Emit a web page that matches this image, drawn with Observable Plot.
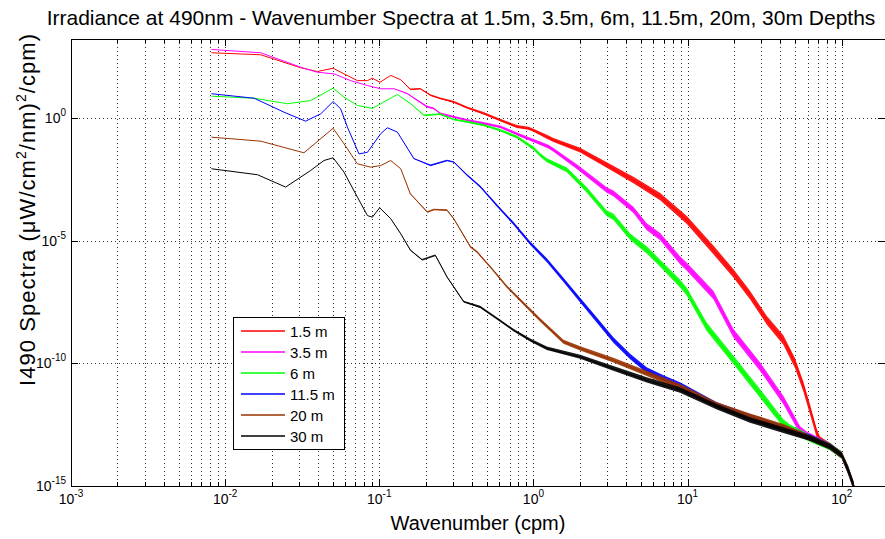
<!DOCTYPE html>
<html>
<head>
<meta charset="utf-8">
<script src="https://cdn.jsdelivr.net/npm/d3@7"></script>
<script src="https://cdn.jsdelivr.net/npm/@observablehq/plot@0.6"></script>
<style>
html,body{margin:0;padding:0;background:#fff;}
#chart svg{display:block;}
</style>
</head>
<body>
<div id="chart"></div>
<script>
// ---------- text ----------
const titleText = "Irradiance at 490nm - Wavenumber Spectra at 1.5m, 3.5m, 6m, 11.5m, 20m, 30m Depths";
const xLabel = "Wavenumber (cpm)";
const depths = ["1.5 m", "3.5 m", "6 m", "11.5 m", "20 m", "30 m"];
const colors = ["#ff0000", "#ff00ff", "#00ff00", "#0000ff", "#993300", "#000000"];
const xTickExp = [-3, -2, -1, 0, 1, 2];
const yTickExp = [-15, -10, -5, 0];

// ---------- data (wavenumber k [cpm], spectral value p, noise spread factor n) ----------
// 1.5 m
const k1 = [0.00813,0.0169,0.0307,0.0393,0.0498,0.0586,0.0716,0.0832,0.0895,0.1002,0.1178,0.1368,0.1585,0.184,0.214,0.248,0.303,0.370,0.474,0.608,0.780,0.930,1.0,1.222,1.349,2.01,2.99,4.45,6.64,9.89,14.7,19.8,25.4,32.6,41.8,49.8,56.4,62.4,68.9,72.3,84,100,110,119];
const p1 = [477,395,117,82,112,66,35,35,44,30,57,38,15,16,8.7,6.4,4.6,2.7,1.55,0.83,0.45,0.38,0.32,0.173,0.127,0.0496,0.0121,0.00297,6.2e-4,7.0e-5,4.2e-6,4.7e-7,6.1e-8,5.8e-9,8.9e-10,1.0e-10,1.1e-11,1.25e-12,1.4e-13,7.5e-14,4.0e-14,1.8e-14,4.5e-15,1.1e-15];
const n1 = [1,1,1,1,1,1,1,1,1,1,1,1,1.05,1.05,1.08,1.08,1.1,1.1,1.12,1.12,1.15,1.15,1.15,1.2,1.2,1.25,1.3,1.35,1.4,1.45,1.5,1.5,1.5,1.5,1.55,1.6,1.6,1.6,1.5,1.4,1.4,1.4,1.5,1.5];
// 3.5 m
const k2 = [0.00813,0.0169,0.0307,0.0393,0.0505,0.0647,0.0832,0.1014,0.1236,0.151,0.204,0.225,0.248,0.303,0.370,0.474,0.608,0.82,1.107,1.25,1.349,1.911,2.99,3.30,4.45,5.43,6.64,8.93,9.89,14.7,19.8,29.5,41.8,53.7,59.3,84,100,110,119];
const p2 = [650,477,123,77,66,35,22,16.3,16.3,10.2,2.9,2.5,1.55,1.13,0.83,0.61,0.44,0.2,0.093,0.068,0.05,0.0104,0.00116,8.5e-4,1.8e-4,3.7e-5,1.45e-5,1.6e-6,8.7e-7,6.1e-8,1.7e-9,7.3e-11,3.2e-12,1.9e-13,1.2e-13,4.0e-14,1.8e-14,4.5e-15,1.1e-15];
const n2 = [1,1,1,1,1,1,1,1,1,1.05,1.08,1.08,1.08,1.1,1.1,1.12,1.12,1.15,1.18,1.2,1.2,1.25,1.3,1.3,1.35,1.4,1.4,1.45,1.45,1.5,1.5,1.5,1.5,1.45,1.4,1.4,1.4,1.5,1.5];
// 6 m
const k3 = [0.00813,0.0153,0.0252,0.0356,0.0498,0.0586,0.0716,0.0895,0.1014,0.130,0.1585,0.194,0.248,0.303,0.370,0.474,0.608,0.78,1.0,1.107,1.222,1.647,2.22,2.99,3.30,4.24,5.43,6.64,8.93,9.89,13.3,19.8,29.5,41.8,46.2,62.4,84,100,110,119];
const p3 = [8.1,6.7,4.0,5.4,17.2,7.4,3.4,2.6,4.0,9.5,4.0,1.33,1.46,0.89,0.71,0.52,0.32,0.17,0.058,0.031,0.019,0.0076,0.00116,1.3e-4,9.5e-5,1.45e-5,4.2e-6,1.2e-6,1.8e-7,8.3e-8,3.1e-9,1.4e-10,6.0e-12,3.6e-13,2.3e-13,8.8e-14,4.0e-14,1.8e-14,4.5e-15,1.1e-15];
const n3 = [1,1,1,1,1,1,1,1,1,1,1.03,1.05,1.08,1.08,1.1,1.1,1.12,1.15,1.18,1.18,1.2,1.25,1.3,1.3,1.35,1.35,1.4,1.4,1.45,1.45,1.5,1.5,1.5,1.45,1.4,1.4,1.4,1.4,1.5,1.5];
// 11.5 m
const k4 = [0.00813,0.0153,0.0239,0.0330,0.0414,0.0498,0.0557,0.0617,0.0733,0.0832,0.1014,0.1119,0.130,0.1667,0.214,0.274,0.303,0.370,0.451,0.59,0.741,0.953,1.222,1.566,2.01,2.58,3.30,4.24,5.43,6.97,8.93,15.5,25.4,41.8,62.4,84,100,110,119];
const p4 = [10.2,6.7,1.81,0.78,1.55,4.9,2.5,0.44,0.036,0.042,0.24,0.42,0.28,0.023,0.012,0.019,0.0166,0.0048,0.0016,2.4e-4,5.1e-5,7.8e-6,1.6e-6,2.5e-7,3.8e-8,5.8e-9,8.9e-10,1.9e-10,5.3e-11,2.5e-11,1.3e-11,2.0e-12,6.5e-13,2.3e-13,9.6e-14,4.3e-14,1.8e-14,4.5e-15,1.1e-15];
const n4 = [1,1,1,1,1,1,1,1,1,1,1,1,1,1.03,1.05,1.05,1.05,1.08,1.1,1.12,1.15,1.18,1.2,1.22,1.25,1.28,1.3,1.3,1.3,1.3,1.3,1.3,1.3,1.3,1.3,1.3,1.3,1.4,1.4];
// 20 m
const k5 = [0.00813,0.0169,0.0322,0.0498,0.0586,0.0716,0.0873,0.1014,0.1178,0.1368,0.158,0.204,0.225,0.274,0.303,0.389,0.430,0.524,0.673,0.861,1.107,1.566,2.01,3.30,5.43,8.93,15.5,25.4,41.8,62.4,84,100,110,119];
const p5 = [0.173,0.119,0.040,0.40,0.093,0.0142,0.0104,0.0121,0.0194,0.0089,8.5e-4,1.5e-4,1.9e-4,1.8e-4,8e-5,5.7e-6,3.5e-6,8.7e-7,1.33e-7,2.8e-8,5.8e-9,7.6e-10,4.1e-10,1.36e-10,3.9e-11,1.1e-11,2.0e-12,7.0e-13,2.6e-13,9.0e-14,4.2e-14,1.8e-14,4.5e-15,1.1e-15];
const n5 = [1,1,1,1,1,1,1,1,1,1,1.03,1.05,1.05,1.05,1.05,1.08,1.1,1.1,1.12,1.15,1.18,1.2,1.22,1.25,1.28,1.3,1.3,1.3,1.3,1.3,1.3,1.3,1.4,1.4];
// 30 m
const k6 = [0.00813,0.0161,0.0245,0.0356,0.0434,0.0498,0.0586,0.0716,0.0832,0.0895,0.0998,0.1178,0.1368,0.1585,0.189,0.230,0.274,0.352,0.451,0.579,0.741,0.953,1.222,2.01,3.30,5.43,8.93,15.5,25.4,41.8,62.4,84,100,110,119];
const p6 = [0.0089,0.0051,0.0016,0.0076,0.0194,0.025,0.0065,6.2e-4,1.1e-4,9.5e-5,2.3e-4,8.2e-5,2.0e-5,4.2e-6,1.7e-6,2.6e-6,3.4e-7,3.3e-8,2.0e-8,6.8e-9,2.3e-9,8.9e-10,4.1e-10,1.86e-10,6.3e-11,2.1e-11,8.2e-12,1.7e-12,4.9e-13,1.9e-13,8.8e-14,4.0e-14,1.8e-14,4.5e-15,1.1e-15];
const n6 = [1,1,1,1,1,1,1,1,1,1,1,1,1.03,1.03,1.05,1.05,1.05,1.08,1.1,1.1,1.12,1.15,1.18,1.2,1.25,1.28,1.3,1.3,1.3,1.3,1.3,1.3,1.3,1.4,1.4];

const ks = [k1,k2,k3,k4,k5,k6], ps = [p1,p2,p3,p4,p5,p6], ns = [n1,n2,n3,n4,n5,n6];
const series = depths.map((d, i) => ks[i].map((k, j) => ({depth: d, k, p: ps[i][j], n: ns[i][j]})));

// grid positions (decades and 2..9 sub-ticks)
const xDom = [1e-3, 190.9];
const yDom = [1e-15, 1659.6];
const xMajor = xTickExp.map(e => Math.pow(10, e));
const xMinor = [];
for (const e of xTickExp) for (let m = 2; m <= 9; m++) { const v = m * Math.pow(10, e); if (v < xDom[1]) xMinor.push(v); }
const yMajor = yTickExp.map(e => Math.pow(10, e));

const gridStyle = {stroke: "#000", strokeOpacity: 0.8, strokeDasharray: "1,3", strokeWidth: 1};
const marks = [
  Plot.ruleX(xMajor.slice(1).concat(xMinor), gridStyle),
  Plot.ruleY(yMajor.slice(1), gridStyle)
];
series.forEach((s, i) => {
  marks.push(Plot.areaY(s, {x: "k", y1: d => d.p / d.n, y2: d => d.p * d.n, fill: colors[i], fillOpacity: 0.9, clip: true}));
  marks.push(Plot.line(s, {x: "k", y: "p", stroke: colors[i], strokeWidth: 1, clip: true}));
});
marks.push(Plot.frame({stroke: "#000", strokeWidth: 1}));

const plot = Plot.plot({
  width: 885, height: 539,
  marginLeft: 71, marginRight: 0, marginTop: 39, marginBottom: 53,
  x: {type: "log", domain: xDom, axis: null},
  y: {type: "log", domain: yDom, axis: null},
  style: {background: "#fff", fontFamily: "'Liberation Sans', Arial, sans-serif"},
  marks
});
document.getElementById("chart").appendChild(plot);

// ---------- decorations through the plot's own scales ----------
const svg = d3.select(plot);
const xs = plot.scale("x"), ys = plot.scale("y");
const yBot = ys.range[0], yTop = ys.range[1];
const xL = xs.range[0], xR = xs.range[1];
svg.selectAll("[aria-label=frame], [aria-label=rule]").attr("shape-rendering", "crispEdges");
const font = "'Liberation Sans', Arial, sans-serif";

const tg = svg.append("g").attr("stroke", "#000").attr("stroke-width", 1).attr("shape-rendering", "crispEdges");
function vtick(v, len) {
  const px = Math.round(xs.apply(v)) + 0.5;
  tg.append("line").attr("x1", px).attr("x2", px).attr("y1", yBot).attr("y2", yBot - len);
  tg.append("line").attr("x1", px).attr("x2", px).attr("y1", yTop).attr("y2", yTop + len);
}
xMajor.forEach(v => vtick(v, 7));
xMinor.forEach(v => vtick(v, 4));
yMajor.forEach(v => {
  const py = Math.round(ys.apply(v)) + 0.5;
  tg.append("line").attr("x1", xL).attr("x2", xL + 7).attr("y1", py).attr("y2", py);
  tg.append("line").attr("x1", xR).attr("x2", xR - 7).attr("y1", py).attr("y2", py);
});

function powLabel(x, y, exp, anchor) {
  const t = svg.append("text").attr("x", x).attr("y", y).attr("text-anchor", anchor)
    .attr("font-family", font).attr("font-size", 14).attr("fill", "#000");
  t.append("tspan").text("10");
  t.append("tspan").attr("dy", -7).attr("font-size", 10).text(String(exp));
}
xTickExp.forEach(e => powLabel(xs.apply(Math.pow(10, e)), 504, e, "middle"));
yTickExp.forEach(e => powLabel(66, ys.apply(Math.pow(10, e)) + 5, e, "end"));

// title
svg.append("text").attr("x", 461).attr("y", 25).attr("text-anchor", "middle")
  .attr("font-family", font).attr("font-size", 21).attr("fill", "#000").text(titleText);
// x label
svg.append("text").attr("x", (xL + xR) / 2).attr("y", 530).attr("text-anchor", "middle")
  .attr("font-family", font).attr("font-size", 20).attr("fill", "#000").text(xLabel);
// y label with superscripts
const yl = svg.append("text").attr("transform", "translate(35,210) rotate(-90)").attr("text-anchor", "middle")
  .attr("font-family", font).attr("font-size", 22).attr("fill", "#000")
  .attr("textLength", 352).attr("lengthAdjust", "spacing");
yl.append("tspan").text("I490 Spectra (\u03bcW/cm");
yl.append("tspan").attr("dy", -9).attr("font-size", 14).text("2");
yl.append("tspan").attr("dy", 9).text("/nm)");
yl.append("tspan").attr("dy", -9).attr("font-size", 14).text("2");
yl.append("tspan").attr("dy", 9).text("/cpm)");

// legend
const lg = svg.append("g").attr("text-anchor", "start");
lg.append("rect").attr("x", 233.5).attr("y", 317.5).attr("width", 111).attr("height", 132)
  .attr("fill", "#fff").attr("stroke", "#000").attr("stroke-width", 1).attr("shape-rendering", "crispEdges");
depths.forEach((d, i) => {
  const ry = 331 + i * 21;
  lg.append("line").attr("x1", 241).attr("x2", 285).attr("y1", ry).attr("y2", ry)
    .attr("stroke", colors[i]).attr("stroke-width", 1.3);
  lg.append("text").attr("x", 290).attr("y", ry + 5.5).attr("text-anchor", "start")
    .attr("font-family", font).attr("font-size", 15).attr("fill", "#000").text(d);
});
</script>
</body>
</html>
